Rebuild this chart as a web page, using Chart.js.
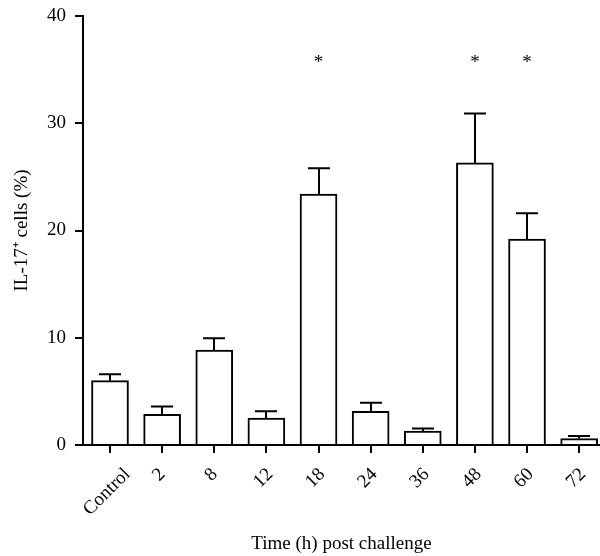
<!DOCTYPE html>
<html>
<head>
<meta charset="utf-8">
<script src="https://cdn.jsdelivr.net/npm/chart.js@4/dist/chart.umd.min.js"></script>
<style>
    html, body { margin: 0; padding: 0; background: #fff; }
    #wrap { width: 600px; height: 556px; }
</style>
</head>
<body>
<div id="wrap"><canvas id="chart-il17"></canvas></div>
<script>
// Values
const timeLabels = ['Control', '2', '8', '12', '18', '24', '36', '48', '60', '72'];
const il17Mean = [6.0, 2.85, 8.85, 2.5, 23.4, 3.15, 1.3, 26.3, 19.2, 0.6];
const il17Sem = [0.6, 0.75, 1.1, 0.65, 2.4, 0.8, 0.25, 4.6, 2.4, 0.25];
const significant = [false, false, false, false, true, false, false, true, true, false];
const starLevel = 36;
const yMin = 0, yMax = 40, yStep = 10;

const FONT = "'Liberation Serif', 'Times New Roman', serif";
const INK = '#000';

// error bars (upper half only) + significance stars
const errorBarPlugin = {
    id: 'errorBars',
    afterDatasetsDraw(chart) {
        const { ctx, scales: { x, y } } = chart;
        ctx.save();
        ctx.strokeStyle = INK;
        ctx.lineWidth = 2;
        il17Mean.forEach((v, i) => {
            const px = Math.round(x.getPixelForValue(i));
            const top = y.getPixelForValue(v + il17Sem[i]);
            const base = y.getPixelForValue(v);
            ctx.beginPath();
            ctx.moveTo(px, base);
            ctx.lineTo(px, top);
            ctx.moveTo(px - 11, top);
            ctx.lineTo(px + 11, top);
            ctx.stroke();
        });
        ctx.fillStyle = INK;
        ctx.font = '19px ' + FONT;
        ctx.textAlign = 'center';
        ctx.textBaseline = 'alphabetic';
        significant.forEach((s, i) => {
            if (!s) return;
            ctx.fillText('*', x.getPixelForValue(i), y.getPixelForValue(starLevel) + 9);
        });
        ctx.restore();
    },
    // rotated category labels, centred under their tick
    afterDraw(chart) {
        const { ctx, scales: { x } } = chart;
        ctx.save();
        ctx.fillStyle = INK;
        ctx.font = '19px ' + FONT;
        ctx.textAlign = 'center';
        ctx.textBaseline = 'middle';
        const h = 12.5;
        timeLabels.forEach((lbl, i) => {
            const w = ctx.measureText(lbl).width;
            const box = (w + h) * Math.SQRT1_2;
            const cx = x.getPixelForValue(i) - 3;
            const cy = x.top + 22 + box / 2;
            ctx.save();
            ctx.translate(cx, cy);
            ctx.rotate(-Math.PI / 4);
            ctx.fillText(lbl, 0, 0);
            ctx.restore();
        });
        ctx.restore();
    }
};

const ctxIl17 = document.getElementById('chart-il17');
new Chart(ctxIl17, {
    type: 'bar',
    data: {
        datasets: [{
            label: 'IL-17+ cells',
            data: il17Mean.map((v, i) => ({ x: i, y: v })),
            backgroundColor: '#fff',
            borderColor: INK,
            borderWidth: 2,
            barThickness: 37
        }]
    },
    options: {
        responsive: true,
        maintainAspectRatio: false,
        animation: false,
        layout: { padding: { top: 16, right: 0, bottom: 0, left: 0 } },
        plugins: {
            legend: { display: false },
            tooltip: { enabled: false }
        },
        scales: {
            x: {
                type: 'linear',
                offset: false,
                min: -0.518,
                max: 9.4,
                afterFit: s => { s.height = 111; },
                border: { color: INK, width: 2 },
                grid: { offset: false, drawOnChartArea: false, drawTicks: true, tickLength: 8, color: INK, lineWidth: 2 },
                ticks: { stepSize: 1, includeBounds: false, autoSkip: false, display: false },
                title: {
                    display: true,
                    text: 'Time (h) post challenge',
                    color: INK,
                    font: { family: FONT, size: 19 },
                    padding: { top: 0, bottom: 1 }
                }
            },
            y: {
                min: yMin,
                max: yMax,
                afterFit: s => { s.width = 83; },
                border: { color: INK, width: 2 },
                grid: { drawOnChartArea: false, drawTicks: true, tickLength: 8, color: INK, lineWidth: 2 },
                ticks: {
                    stepSize: yStep,
                    padding: 9,
                    color: INK,
                    font: { family: FONT, size: 19, lineHeight: 0.7 }
                },
                title: {
                    display: true,
                    text: 'IL-17\u207A cells (%)',
                    color: INK,
                    font: { family: FONT, size: 19 },
                    padding: { top: 11, bottom: 0 }
                }
            }
        }
    },
    plugins: [errorBarPlugin]
});
</script>
</body>
</html>
